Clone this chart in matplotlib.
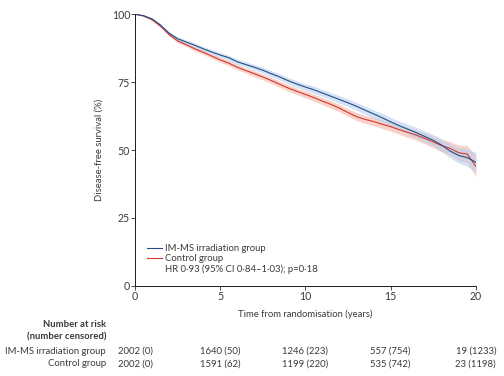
import matplotlib
matplotlib.use("Agg")
import matplotlib.pyplot as plt
from matplotlib.lines import Line2D
from matplotlib.transforms import blended_transform_factory
import numpy as np

# ---------------- data ----------------
years = [0, 0.5, 1, 1.5, 2, 2.5, 3, 3.5, 4, 4.5, 5, 5.5, 6, 6.5, 7, 7.5, 8, 8.5,
         9, 9.5, 10, 10.5, 11, 11.5, 12, 12.5, 13, 13.5, 14, 14.5, 15, 15.5, 16,
         16.5, 17, 17.5, 18, 18.5, 19, 19.5, 20]
imms_surv = [100, 99.5, 98.3, 96.0, 93.0, 91.0, 89.8, 88.6, 87.3, 86.1, 85.0, 84.0,
             82.5, 81.5, 80.5, 79.4, 78.1, 76.9, 75.5, 74.3, 73.2, 72.2, 71.0, 69.8,
             68.6, 67.4, 66.1, 64.7, 63.3, 61.9, 60.4, 59.0, 57.7, 56.4, 55.0, 53.6,
             51.8, 49.6, 48.0, 47.2, 45.5]
ctrl_surv = [100, 99.4, 98.0, 95.6, 92.5, 90.2, 88.8, 87.3, 86.0, 84.6, 83.2, 82.0,
             80.5, 79.3, 78.1, 76.9, 75.6, 74.2, 72.8, 71.6, 70.5, 69.3, 68.0, 66.8,
             65.4, 63.8, 62.3, 61.3, 60.5, 59.5, 58.6, 57.5, 56.5, 55.5, 54.3, 53.0,
             51.6, 50.6, 49.0, 48.5, 44.0]
# 95% CI half-widths (percentage points)
imms_ci = [0, 0.3, 0.4, 0.5, 0.6, 0.7, 0.7, 0.8, 0.8, 0.9, 0.9, 0.9, 1.0, 1.0, 1.0,
           1.1, 1.1, 1.1, 1.2, 1.2, 1.2, 1.3, 1.3, 1.3, 1.4, 1.4, 1.4, 1.5, 1.5, 1.6,
           1.6, 1.7, 1.8, 1.9, 2.0, 2.1, 2.3, 2.5, 2.8, 3.2, 3.6]
ctrl_ci = [0, 0.3, 0.4, 0.5, 0.6, 0.7, 0.7, 0.8, 0.8, 0.9, 0.9, 1.0, 1.0, 1.0, 1.1,
           1.1, 1.1, 1.2, 1.2, 1.2, 1.3, 1.3, 1.3, 1.4, 1.4, 1.4, 1.5, 1.5, 1.6, 1.6,
           1.7, 1.7, 1.8, 1.9, 2.0, 2.1, 2.3, 2.5, 2.8, 3.2, 3.8]

risk_years = [0, 5, 10, 15, 20]
imms_risk = ["2002 (0)", "1640 (50)", "1246 (223)", "557 (754)", "19 (1233)"]
ctrl_risk = ["2002 (0)", "1591 (62)", "1199 (220)", "535 (742)", "23 (1198)"]

x_ticks = [0, 5, 10, 15, 20]
y_ticks = [0, 25, 50, 75, 100]

group_labels = ["IM-MS irradiation group", "Control group"]
hr_text = "HR 0·93 (95% CI 0·84–1·03); p=0·18"

# ---------------- style ----------------
plt.rcParams['font.family'] = ['Lato', 'DejaVu Sans']
txt = '#3a3a3a'
blue = '#1f4f86'
red = '#d8332c'
blue_band = '#b9cdee'
red_band = '#f6c1b4'
fs = 10.5

fig = plt.figure(figsize=(7.0, 376 / 72), dpi=72)
ax = fig.add_axes([0.268, 0.240, 0.676, 0.722])

t = np.array(years)
b = np.array(imms_surv); bc = np.array(imms_ci)
r = np.array(ctrl_surv); rc = np.array(ctrl_ci)

ax.fill_between(t, r - rc, r + rc, color=red_band, alpha=0.7, lw=0)
ax.fill_between(t, b - bc, b + bc, color=blue_band, alpha=0.6, lw=0)
ax.plot(t, r, color=red, lw=1.1)
ax.plot(t, b, color=blue, lw=1.1)

ax.set_xlim(0, 20)
ax.set_ylim(0, 100)
ax.set_xticks(x_ticks)
ax.set_yticks(y_ticks)
for s in ['top', 'right']:
    ax.spines[s].set_visible(False)
for s in ['left', 'bottom']:
    ax.spines[s].set_color('#222222')
    ax.spines[s].set_linewidth(1.0)
ax.tick_params(direction='out', length=4, width=0.8, colors='#222222',
               labelsize=fs, labelcolor=txt, pad=1)
ax.set_ylabel("Disease-free survival (%)", fontsize=fs - 1, color=txt, labelpad=8)
ax.set_xlabel("Time from randomisation (years)", fontsize=fs - 1, color=txt, labelpad=8)

handles = [Line2D([], [], color=blue, lw=1.1),
           Line2D([], [], color=red, lw=1.1),
           Line2D([], [], color='none', lw=0)]
ax.legend(handles, group_labels + [hr_text], loc='lower left',
          bbox_to_anchor=(0.035, 0.045), frameon=False, fontsize=fs - 1,
          handlelength=1.6, handletextpad=0.3, labelspacing=0.1,
          labelcolor=txt, borderpad=0, borderaxespad=0)

tr = blended_transform_factory(ax.transData, ax.transAxes)
label_x = -1.7
ax.text(label_x, -0.141, "Number at risk", transform=tr, ha='right', va='center',
        fontsize=fs - 1, fontweight='bold', color=txt, clip_on=False)
ax.text(label_x, -0.189, "(number censored)", transform=tr, ha='right', va='center',
        fontsize=fs - 1, fontweight='bold', color=txt, clip_on=False)
ax.text(label_x, -0.241, group_labels[0], transform=tr, ha='right', va='center',
        fontsize=fs - 1, color=txt, clip_on=False)
ax.text(label_x, -0.288, group_labels[1], transform=tr, ha='right', va='center',
        fontsize=fs - 1, color=txt, clip_on=False)
for yr, a, c in zip(risk_years, imms_risk, ctrl_risk):
    ax.text(yr, -0.241, a, transform=tr, ha='center', va='center',
            fontsize=fs - 1, color=txt, clip_on=False)
    ax.text(yr, -0.288, c, transform=tr, ha='center', va='center',
            fontsize=fs - 1, color=txt, clip_on=False)

fig.savefig("out.png", dpi=72, facecolor='white')
